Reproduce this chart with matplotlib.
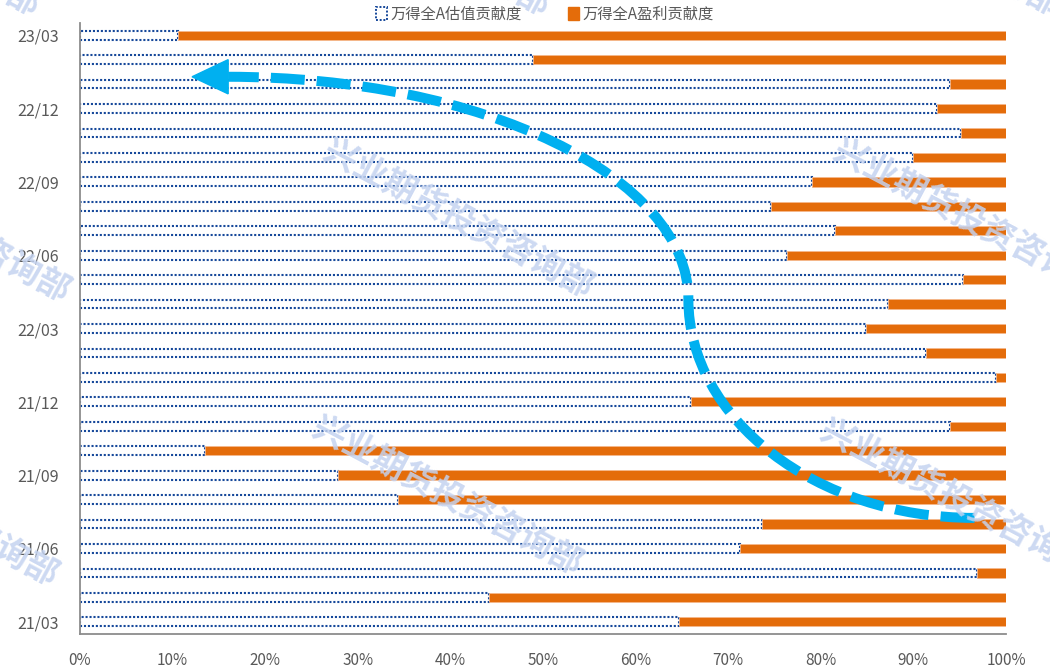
import matplotlib
matplotlib.use('Agg')
from matplotlib import pyplot as plt
from matplotlib.patches import Patch, PathPatch, Polygon
from matplotlib.path import Path
from matplotlib.ticker import FuncFormatter

plt.rcParams['font.family'] = ['Noto Sans CJK SC', 'DejaVu Sans']

# months from 21/03 (bottom) to 23/03 (top)
months = ['21/03', '21/04', '21/05', '21/06', '21/07', '21/08', '21/09',
          '21/10', '21/11', '21/12', '22/01', '22/02', '22/03', '22/04',
          '22/05', '22/06', '22/07', '22/08', '22/09', '22/10', '22/11',
          '22/12', '23/01', '23/02', '23/03']
# 万得全A估值贡献度 (%)
valuation = [64.7, 44.2, 96.9, 71.3, 73.7, 34.3, 27.9, 13.5, 94.0, 66.0,
             98.9, 91.4, 84.9, 87.3, 95.4, 76.3, 81.5, 74.6, 79.0, 90.0,
             95.1, 92.5, 94.0, 48.9, 10.6]
# 万得全A盈利贡献度 (%)
earnings = [35.3, 55.8, 3.1, 28.7, 26.3, 65.7, 72.1, 86.5, 6.0, 34.0,
            1.1, 8.6, 15.1, 12.7, 4.6, 23.7, 18.5, 25.4, 21.0, 10.0,
            4.9, 7.5, 6.0, 51.1, 89.4]
tick_labels = ['21/03', '21/06', '21/09', '21/12', '22/03', '22/06',
               '22/09', '22/12', '23/03']
x_ticks = [0, 10, 20, 30, 40, 50, 60, 70, 80, 90, 100]

# trend arrow drawn over the bars (x in %, y in bar index)
arrow_path = [(96.6, 4.25), (79.5, 4.25), (65.7, 8.3), (65.7, 13.2),
              (65.7, 18.2), (43.5, 22.3), (16.0, 22.3)]
arrow_tip = (12.1, 22.3)

BLUE = '#16489a'
ORANGE = '#e46c0a'
CYAN = '#00b0f0'
GREY = '#595959'


def main():
    fig = plt.figure(figsize=(10.5, 6.68), dpi=100)
    ax = fig.add_axes([80 / 1050, 34 / 668, 926 / 1050, 611 / 668])

    ypos = list(range(len(months)))
    ax.barh(ypos, valuation, height=0.36, left=0, fill=False,
            edgecolor=BLUE, linewidth=1.5, linestyle=(0, (1, 0.9)), zorder=2)
    ax.barh(ypos, earnings, height=0.38, left=valuation, color=ORANGE,
            edgecolor='#f5b88c', linewidth=0.6, zorder=3)

    ax.set_xlim(0, 100)
    ax.set_ylim(-0.5, len(months) - 0.5)
    ax.set_xticks(x_ticks)
    ax.xaxis.set_major_formatter(FuncFormatter(lambda v, p: '%d%%' % v))
    ax.set_yticks([months.index(t) for t in tick_labels])
    ax.set_yticklabels(tick_labels)
    ax.tick_params(axis='both', length=0, labelcolor=GREY)
    ax.tick_params(axis='x', pad=13, labelsize=11)
    ax.tick_params(axis='y', pad=15, labelsize=11.5)
    for s in ['top', 'right']:
        ax.spines[s].set_visible(False)
    for s in ['left', 'bottom']:
        ax.spines[s].set_color('#8c8c8c')
        ax.spines[s].set_linewidth(1.3)

    # dashed curved arrow
    codes = [Path.MOVETO, Path.CURVE4, Path.CURVE4, Path.CURVE4,
             Path.CURVE4, Path.CURVE4, Path.CURVE4]
    ax.add_patch(PathPatch(Path(arrow_path, codes), fill=False, edgecolor=CYAN,
                           linewidth=7.2, linestyle=(0, (3.4, 1.2)),
                           capstyle='butt', zorder=6))
    bx = arrow_path[-1][0]
    by = arrow_path[-1][1]
    ax.add_patch(Polygon([arrow_tip, (bx, by + 0.7), (bx, by - 0.7)],
                         closed=True, color=CYAN, zorder=6))

    # watermarks
    for cx, cy in [(458, 220), (968, 220), (-65, 224),
                   (447, 497), (955, 500), (-77, 508),
                   (-95, -62), (415, -62), (925, -62)]:
        fig.text(cx / 1050, 1 - cy / 668, '兴业期货投资咨询部', fontsize=24,
                 fontweight='bold', color='#c4d3f0', alpha=0.85,
                 rotation=-28, ha='center', va='center',
                 rotation_mode='anchor', zorder=5)

    handles = [Patch(facecolor='white', edgecolor=BLUE, linestyle=(0, (1, 0.9)),
                     linewidth=1.4),
               Patch(facecolor=ORANGE, edgecolor=ORANGE)]
    fig.legend(handles, ['万得全A估值贡献度', '万得全A盈利贡献度'],
               loc='center', bbox_to_anchor=(545 / 1050, 1 - 14 / 668),
               ncol=2, frameon=False, fontsize=11, labelcolor=GREY,
               handlelength=0.7, handleheight=0.9, handletextpad=0.25,
               columnspacing=3.0)

    fig.savefig('out.png', dpi=100)


main()
